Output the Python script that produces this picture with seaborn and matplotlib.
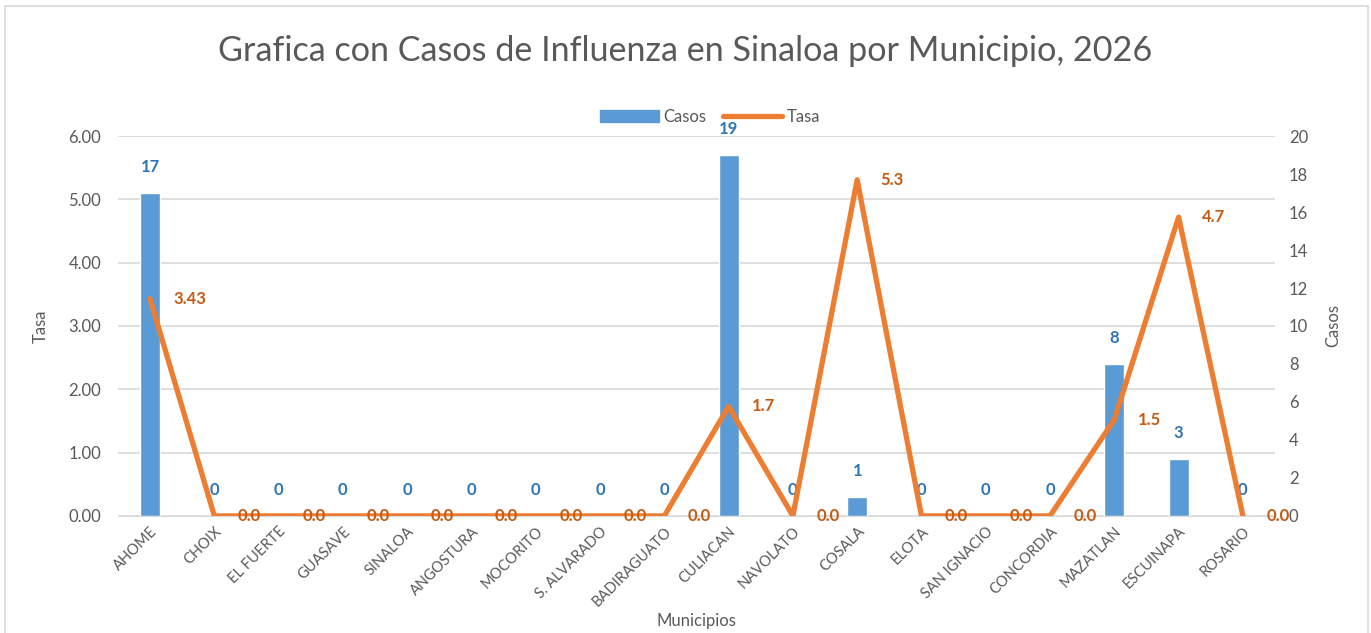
import pandas as pd
import matplotlib.pyplot as plt
import seaborn as sns
from matplotlib.patches import Rectangle
from matplotlib.lines import Line2D

# datos
municipios = ['AHOME', 'CHOIX', 'EL FUERTE', 'GUASAVE', 'SINALOA', 'ANGOSTURA',
              'MOCORITO', 'S. ALVARADO', 'BADIRAGUATO', 'CULIACAN', 'NAVOLATO',
              'COSALA', 'ELOTA', 'SAN IGNACIO', 'CONCORDIA', 'MAZATLAN',
              'ESCUINAPA', 'ROSARIO']
casos = [17, 0, 0, 0, 0, 0, 0, 0, 0, 19, 0, 1, 0, 0, 0, 8, 3, 0]
tasa = [3.43, 0, 0, 0, 0, 0, 0, 0, 0, 1.73, 0, 5.31, 0, 0, 0, 1.52, 4.72, 0]
tasa_dec = [2, 1, 1, 1, 1, 1, 1, 1, 1, 1, 1, 1, 1, 1, 1, 1, 1, 1]

df = pd.DataFrame({'Municipio': municipios, 'Casos': casos, 'Tasa': tasa})

sns.set_style('white')
plt.rcParams['font.family'] = ['Lato', 'DejaVu Sans']

gris = '#595959'
azul = '#5B9BD5'
naranja = '#ED7D31'
n = len(municipios)

fig = plt.figure(figsize=(13.71, 6.33), dpi=100)
fig.patches.append(Rectangle((0.004, -0.01), 0.994, 1.0, transform=fig.transFigure,
                             fill=False, edgecolor='#D9D9D9', linewidth=1.2))

ax = fig.add_axes([0.086, 0.185, 0.844, 0.6])

# barras (eje derecho)
ax2 = ax.twinx()
sns.barplot(data=df, x='Municipio', y='Casos', color=azul, width=0.31,
            saturation=1, ax=ax2)
ax2.set_ylim(0, 20)
ax2.set_yticks(range(0, 21, 2))
for i, c in enumerate(casos):
    ax2.annotate(str(c), (i, c), xytext=(0, 13), textcoords='offset points',
                 ha='center', va='bottom', color='#2E75B6', fontsize=12,
                 fontweight='bold')

# linea (eje izquierdo, encima)
ax3 = ax.twinx()
sns.lineplot(data=df, x='Municipio', y='Tasa', color=naranja, linewidth=3.8,
             sort=False, ax=ax3)
ax3.set_ylim(0, 6)
ax3.axis('off')
for i, (t, d) in enumerate(zip(tasa, tasa_dec)):
    ax3.annotate(f'{t:.{d}f}', (i, t), xytext=(17, 0), textcoords='offset points',
                 ha='left', va='center', color='#C55A11', fontsize=12,
                 fontweight='bold')

ax.set_ylim(0, 6)
ax.set_yticks([0, 1, 2, 3, 4, 5, 6])
ax.set_yticklabels([f'{v:.2f}' for v in range(7)])
ax.grid(axis='y', color='#D9D9D9', linewidth=1.2)
ax.set_xlim(-0.5, n - 0.5)
ax.set_xticks(range(n))
ax.set_xticklabels(municipios, rotation=45, ha='right', rotation_mode='anchor',
                   fontsize=10.5, color=gris)
ax2.tick_params(axis='x', labelbottom=False, length=0)

for a in (ax, ax2, ax3):
    for s in a.spines.values():
        s.set_visible(False)
ax.spines['bottom'].set_visible(True)
ax.spines['bottom'].set_color('#D9D9D9')

ax.tick_params(axis='y', length=0, labelsize=12, labelcolor=gris, pad=12)
ax2.tick_params(axis='y', length=0, labelsize=12, labelcolor=gris, pad=10)
ax.tick_params(axis='x', length=0, pad=6)
ax2.set_xlabel('')
ax2.set_ylabel('Casos', fontsize=12, color=gris, labelpad=12)
ax.set_ylabel('Tasa', fontsize=12, color=gris, labelpad=14)

ax.set_xlabel('Municipios', fontsize=12, color=gris)
ax.xaxis.set_label_coords(0.5, -0.255)

ax.set_zorder(1)
ax2.set_zorder(2)
ax3.set_zorder(3)
ax2.patch.set_visible(False)
ax3.patch.set_visible(False)

fig.suptitle('Grafica con Casos de Influenza en Sinaloa por Municipio, 2026',
             y=0.945, fontsize=24.6, color=gris)

handles = [Rectangle((0, 0), 1, 1, color=azul),
           Line2D([0], [0], color=naranja, linewidth=3.8, solid_capstyle='round')]
fig.legend(handles, ['Casos', 'Tasa'], loc='center', bbox_to_anchor=(0.518, 0.815),
           ncol=2, frameon=False, fontsize=12, labelcolor=gris, handlelength=3.5,
           handletextpad=0.3, columnspacing=1.0)

fig.savefig('out.png', dpi=100)
